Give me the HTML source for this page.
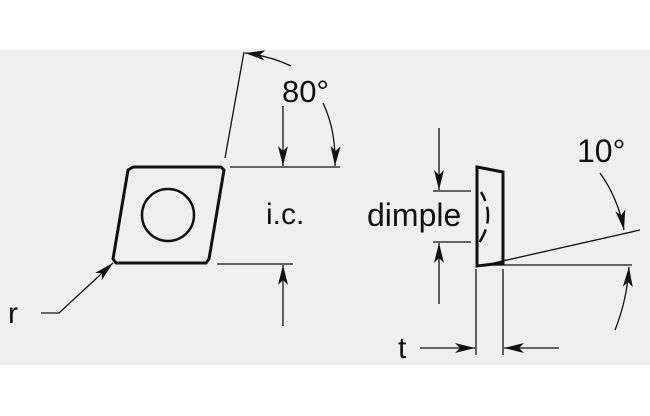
<!DOCTYPE html>
<html><head><style>
html,body{margin:0;padding:0;background:#fff;}
svg{display:block;}
text{font-family:"Liberation Sans",Arial,sans-serif;fill:#111;}
</style></head><body>
<svg width="650" height="416" viewBox="0 0 650 416" xmlns="http://www.w3.org/2000/svg">
<defs>
<marker id="a" viewBox="0 0 20 10" refX="20" refY="5" markerWidth="20" markerHeight="10" markerUnits="userSpaceOnUse" orient="auto">
<path d="M0,0 L20,5 L0,10 L5,5 Z" fill="#111"/>
</marker>
</defs>
<rect x="0" y="50" width="650" height="315" fill="#efefef"/>
<g stroke="#111" fill="none">
<path d="M133,167 L221,167 L224,170 L209,259 L206,263 L116,263 L113,259 L128,170 Z" stroke-width="3" stroke-linejoin="round"/>
<circle cx="168" cy="215" r="26" stroke-width="2.5"/>
<line x1="225" y1="158" x2="244" y2="52" stroke-width="1.3"/>
<path d="M291,66 Q270,56 245,53" stroke-width="1.3" marker-end="url(#a)"/>
<line x1="230" y1="167" x2="340" y2="167" stroke-width="1.3"/>
<line x1="283" y1="106" x2="283" y2="166" stroke-width="1.3" marker-end="url(#a)"/>
<path d="M323,103 Q336,130 335,166" stroke-width="1.3" marker-end="url(#a)"/>
<line x1="217" y1="264" x2="293" y2="264" stroke-width="1.3"/>
<line x1="283" y1="326" x2="283" y2="265" stroke-width="1.3" marker-end="url(#a)"/>
<path d="M41,313 L59,313 L113,263" stroke-width="1.3" marker-end="url(#a)"/>
<path d="M477,167 L503,172 L503,263 L477,266 Z" stroke-width="3" stroke-linejoin="miter"/>
<path d="M481,192 Q496,217 479,243" stroke-width="2.5" stroke-dasharray="10,6,17,6,14"/>
<line x1="433" y1="191" x2="471" y2="191" stroke-width="1.3"/>
<line x1="433" y1="242" x2="471" y2="242" stroke-width="1.3"/>
<line x1="439" y1="128" x2="439" y2="190" stroke-width="1.3" marker-end="url(#a)"/>
<line x1="439" y1="304" x2="439" y2="243" stroke-width="1.3" marker-end="url(#a)"/>
<line x1="485" y1="265" x2="640" y2="230" stroke-width="1.3"/>
<line x1="485" y1="265" x2="632" y2="265" stroke-width="1.3"/>
<path d="M600,173 Q618,198 624,230" stroke-width="1.3" marker-end="url(#a)"/>
<path d="M615,330 Q627,300 629,267" stroke-width="1.3" marker-end="url(#a)"/>
<line x1="476" y1="269" x2="476" y2="355" stroke-width="1.3"/>
<line x1="503" y1="269" x2="503" y2="355" stroke-width="1.3"/>
<line x1="420" y1="348" x2="475" y2="348" stroke-width="1.3" marker-end="url(#a)"/>
<line x1="559" y1="348" x2="504" y2="348" stroke-width="1.3" marker-end="url(#a)"/>
</g>
<text x="282" y="102" font-size="31">80°</text>
<text x="266" y="224" font-size="30">i.c.</text>
<text x="8" y="323" font-size="30">r</text>
<text x="367" y="226" font-size="32">dimple</text>
<text x="577" y="162" font-size="32">10°</text>
<text x="398" y="358" font-size="30">t</text>
</svg>
</body></html>
